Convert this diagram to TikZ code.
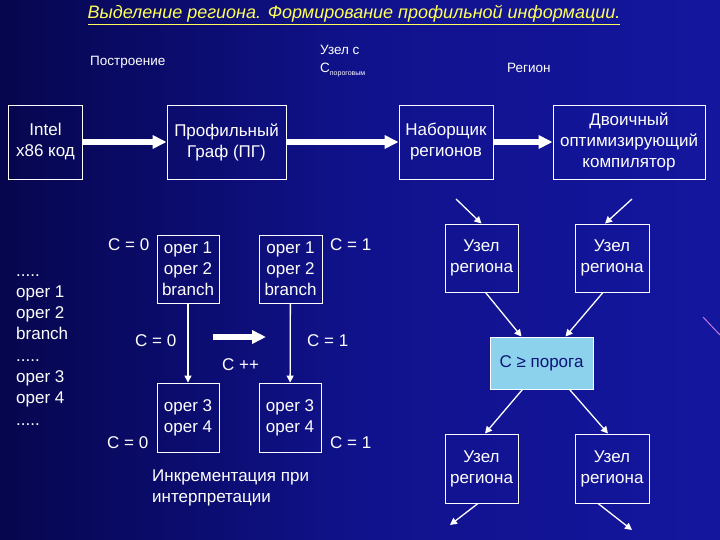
\documentclass[tikz,border=0pt]{standalone}
\usepackage{fontspec}
\setmainfont{Liberation Sans}
\usetikzlibrary{arrows.meta,positioning,calc}
\definecolor{bgNavy}  {RGB}{  6,  6, 78}
\definecolor{bgMid}   {RGB}{ 16, 18,140}
\definecolor{bgBlue}  {RGB}{ 20, 22,158}
\definecolor{ttlYellow}{RGB}{255,255, 90}
\definecolor{thrFill} {RGB}{140,210,236}
\definecolor{thrInk}  {RGB}{ 10, 20,120}
\definecolor{streak}  {RGB}{190,120,220}
\newcommand{\skipdots}{.....}

\begin{document}
\begin{tikzpicture}[x=1pt,y=-1pt,
  font=\fontsize{17}{21}\selectfont,text=white,
  blk/.style={rectangle,draw=white,line width=0.9pt,text=white,
              align=center,inner sep=0pt},
  txt/.style={inner sep=0pt,align=left},
  lbl/.style={inner sep=0pt,font=\fontsize{13.5}{16}\selectfont},
  fat/.style={white,line width=5.5pt,-{Triangle[length=14pt,width=13pt]}},
  slim/.style={white,line width=1.3pt,-{Triangle[length=7pt,width=7pt]}}
]
% --- background
\shade[left color=bgNavy,right color=bgBlue,middle color=bgMid] (0,0) rectangle (720,540);
\useasboundingbox (0,0) rectangle (720,540);
\draw[streak,line width=1pt] (703,317) -- (720,335);

% --- title and upper labels
\node[inner sep=0pt,font=\fontsize{18}{20}\selectfont\itshape,text=ttlYellow]
  (title) at (354,15) {\underline{Выделение региона. Формирование профильной информации.}};
\node[lbl,anchor=west] (build) at (90,62) {Построение};
\node[lbl,anchor=west] (thrA) at (320,50) {Узел с};
\node[lbl,anchor=west] (thrB) at (320,70)
  {C\raisebox{-3pt}{\fontsize{7}{8}\selectfont пороговым}};
\node[lbl,anchor=west] (regn) at (507,68) {Регион};

% --- pipeline
\node[blk,minimum width=74pt,minimum height=74pt] (intel) at (45.5,142) {Intel\\x86 код};
\node[blk,minimum width=119pt,minimum height=74pt] (graph) at (226.5,142) {Профильный\\Граф (ПГ)};
\node[blk,minimum width=94pt,minimum height=74pt] (picker) at (446,142) {Наборщик\\регионов};
\node[blk,minimum width=152pt,minimum height=74pt] (bincc) at (629,142)
  {Двоичный\\оптимизирующий\\компилятор};
\draw[fat] (intel) -- (graph);
\draw[fat] (graph) -- (picker);
\draw[fat] (picker) -- (bincc);

% --- source listing
\foreach \t [count=\i from 0] in {\skipdots,oper 1,oper 2,branch,\skipdots,oper 3,oper 4,\skipdots}
  \node[txt,anchor=base west] (src-\i) at (16,276+21.3*\i) {\t};

% --- counter blocks
\node[blk,minimum width=62pt,minimum height=68pt] (blkA) at (188,269) {oper 1\\oper 2\\branch};
\node[blk,minimum width=63pt,minimum height=68pt] (blkB) at (290.5,269) {oper 1\\oper 2\\branch};
\node[blk,minimum width=62pt,minimum height=69pt] (blkC) at (188,417.5) {oper 3\\oper 4};
\node[blk,minimum width=62pt,minimum height=69pt] (blkD) at (290,417.5) {oper 3\\oper 4};
\draw[slim] (blkA) -- (blkC);
\draw[slim] (blkB) -- (blkD);
\node[txt,anchor=west] (cA) at (108,245) {C = 0};
\node[txt,anchor=west] (cB) at (330,245) {C = 1};
\node[txt,anchor=west] (cC) at (135,341) {C = 0};
\node[txt,anchor=west] (cD) at (307,341) {C = 1};
\node[txt,anchor=west] (cE) at (107,443) {C = 0};
\node[txt,anchor=west] (cF) at (330,443) {C = 1};
\coordinate (incS) at (213,337);
\coordinate (incE) at (266,337);
\draw[fat] (incS) -- (incE);
\node[txt,anchor=west] (cinc) at (222,365) {C ++};
\node[txt,anchor=west] (note) at (152,487.5) {Инкрементация при\\интерпретации};

% --- region nodes
\node[blk,minimum width=73pt,minimum height=68pt] (regA) at (481.5,258) {Узел\\региона};
\node[blk,minimum width=74pt,minimum height=68pt] (regB) at (612,258) {Узел\\региона};
\node[blk,fill=thrFill,text=thrInk,minimum width=103pt,minimum height=52pt]
  (thr) at (541.5,363) {C ≥ порога};
\node[blk,minimum width=73pt,minimum height=69pt] (regC) at (481.5,468.5) {Узел\\региона};
\node[blk,minimum width=74pt,minimum height=69pt] (regD) at (612,468.5) {Узел\\региона};
\coordinate (inA) at (456,199);
\coordinate (inB) at (632,199);
\coordinate (outA) at (450,525);
\coordinate (outB) at (632,530);
\draw[slim] (inA) -- (regA.north);
\draw[slim] (inB) -- ([xshift=-7pt]regB.north);
\draw[slim] ([xshift=4pt]regA.south) -- ([xshift=-20pt]thr.north);
\draw[slim] ([xshift=-9pt]regB.south) -- ([xshift=24pt]thr.north);
\draw[slim] ([xshift=-19pt]thr.south) -- ([xshift=3.5pt]regC.north);
\draw[slim] ([xshift=28pt]thr.south) -- ([xshift=-4pt]regD.north);
\draw[slim] ([xshift=-3.5pt]regC.south) -- (outA);
\draw[slim] ([xshift=-14pt]regD.south) -- (outB);
\end{tikzpicture}
\end{document}
